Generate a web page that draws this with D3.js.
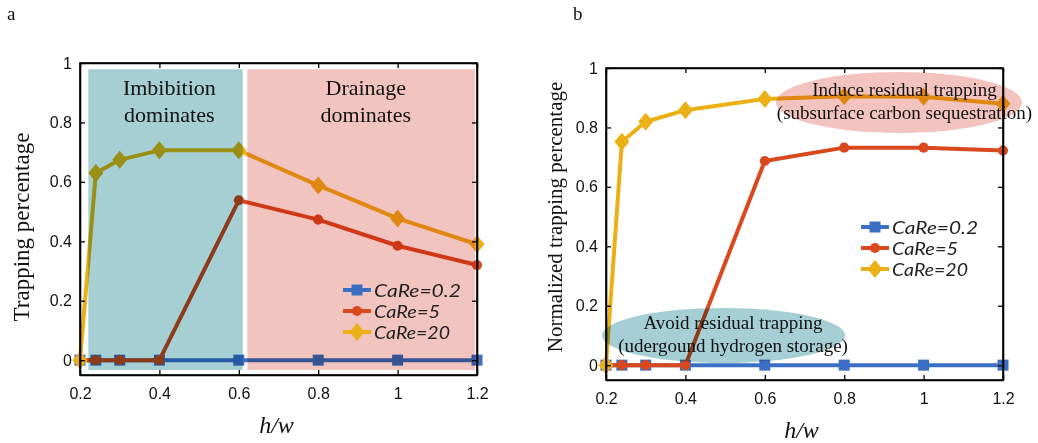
<!DOCTYPE html>
<html><head><meta charset="utf-8">
<script src="https://cdn.jsdelivr.net/npm/d3@7"></script>
<style>
html,body{margin:0;padding:0;background:#fff;}
svg{display:block;}
</style></head>
<body>
<svg id="chart" width="1038" height="443"></svg>
<script>
// ---------- data ----------
const xValues = [0.2, 0.24, 0.3, 0.4, 0.6, 0.8, 1.0, 1.2];
const xTicks = [0.2, 0.4, 0.6, 0.8, 1, 1.2];
const yTicks = [0, 0.2, 0.4, 0.6, 0.8, 1];
const seriesNames = ["CaRe=0.2", "CaRe=5", "CaRe=20"];
const seriesColors = ["#3a6fc4", "#d9491d", "#ecb017"];
const seriesMarkers = ["square", "circle", "diamond"];

// panel a: trapping percentage
const aCaRe02 = [0, 0, 0, 0, 0, 0, 0, 0];
const aCaRe5  = [0, 0, 0, 0, 0.538, 0.473, 0.385, 0.32];
const aCaRe20 = [0, 0.63, 0.674, 0.706, 0.706, 0.588, 0.477, 0.39];

// panel b: normalized trapping percentage
const bCaRe02 = [0, 0, 0, 0, 0, 0, 0, 0];
const bCaRe5  = [0, 0, 0, 0, 0.687, 0.732, 0.732, 0.722];
const bCaRe20 = [0, 0.752, 0.819, 0.858, 0.896, 0.905, 0.903, 0.88];

// annotation regions (data units)
const aRegions = [
  {x0: 0.221, x1: 0.61, y0: -0.033, y1: 0.979, fill: "#a6cfd4", lines: ["Imbibition", "dominates"], tx: 0.425},
  {x0: 0.6215, x1: 1.195, y0: -0.033, y1: 0.979, fill: "#f2c4c0", lines: ["Drainage", "dominates"], tx: 0.92}
];
const bEllipses = [
  {cx: 0.938, cy: 0.884, rx: 0.31, ry: 0.1026, fill: "#f2c3bf", lines: ["Induce residual trapping", "(subsurface carbon sequestration)"], tx: 0.952},
  {cx: 0.496, cy: 0.10, rx: 0.306, ry: 0.0925, fill: "#a5cfd4", lines: ["Avoid residual trapping", "(udergound hydrogen storage)"], tx: 0.52}
];

const svg = d3.select("#chart");
svg.append("rect").attr("width", 1038).attr("height", 443).attr("fill", "#fff");

function markerPath(type) {
  if (type === "square") return d3.symbol(d3.symbolSquare, 121)();
  if (type === "circle") return d3.symbol(d3.symbolCircle, 80)();
  return "M0,-9L7.5,0L0,9L-7.5,0Z";
}

function drawPanel(cfg) {
  const x = d3.scaleLinear().domain([0.2, 1.2]).range([cfg.left, cfg.right]);
  const y = d3.scaleLinear().domain([-0.05, 1]).range([cfg.bottom, cfg.top]);
  const g = svg.append("g");

  // series
  const line = d3.line().x((d, i) => x(xValues[i])).y(d => y(d));
  cfg.series.forEach((vals, k) => {
    g.append("path").attr("d", line(vals)).attr("fill", "none")
      .attr("stroke", seriesColors[k]).attr("stroke-width", 4).attr("stroke-linejoin", "round");
    g.selectAll(null).data(vals).enter().append("path")
      .attr("d", markerPath(seriesMarkers[k]))
      .attr("transform", (d, i) => `translate(${x(xValues[i])},${y(d)})`)
      .attr("fill", seriesColors[k]);
  });

  // overlays (multiply blend)
  const ov = g.append("g");
  (cfg.regions || []).forEach(r => {
    ov.append("rect").attr("x", x(r.x0)).attr("y", y(r.y1))
      .attr("width", x(r.x1) - x(r.x0)).attr("height", y(r.y0) - y(r.y1))
      .attr("fill", r.fill).style("mix-blend-mode", "multiply");
  });
  (cfg.ellipses || []).forEach(e => {
    ov.append("ellipse").attr("cx", x(e.cx)).attr("cy", y(e.cy))
      .attr("rx", x(e.cx + e.rx) - x(e.cx)).attr("ry", y(e.cy) - y(e.cy + e.ry))
      .attr("fill", e.fill).style("mix-blend-mode", "multiply");
  });

  // axes box with inward ticks
  const tickLen = 5;
  const axB = d3.axisBottom(x).tickValues(xTicks).tickSizeInner(-tickLen).tickSizeOuter(0).tickPadding(13).tickFormat(d3.format("~g"));
  const axT = d3.axisTop(x).tickValues(xTicks).tickSizeInner(-tickLen).tickSizeOuter(0).tickFormat("");
  const axL = d3.axisLeft(y).tickValues(yTicks).tickSizeInner(-tickLen).tickSizeOuter(0).tickPadding(8).tickFormat(d3.format("~g"));
  const axR = d3.axisRight(y).tickValues(yTicks).tickSizeInner(-tickLen).tickSizeOuter(0).tickFormat("");
  const axes = [
    g.append("g").attr("transform", `translate(0,${cfg.bottom})`).call(axB),
    g.append("g").attr("transform", `translate(0,${cfg.top})`).call(axT),
    g.append("g").attr("transform", `translate(${cfg.left},0)`).call(axL),
    g.append("g").attr("transform", `translate(${cfg.right},0)`).call(axR)
  ];
  axes.forEach(a => {
    a.select(".domain").attr("stroke", "#000").attr("stroke-width", 1.6);
    a.selectAll(".tick line").attr("stroke", "#000").attr("stroke-width", 1.3);
    a.selectAll(".tick text").attr("font-family", "'Liberation Sans', Arial, sans-serif")
      .attr("font-size", 16).attr("fill", "#111");
  });
  g.append("rect").attr("x", cfg.left).attr("y", cfg.top).attr("width", cfg.right - cfg.left)
    .attr("height", cfg.bottom - cfg.top).attr("fill", "none").attr("stroke", "#000").attr("stroke-width", 1.6);

  // annotation text
  const serif = "'Liberation Serif', 'Times New Roman', serif";
  (cfg.regions || []).forEach(r => {
    r.lines.forEach((t, i) => {
      g.append("text").attr("x", x(r.tx)).attr("y", cfg.top + 25 + i * 27 + 7)
        .attr("text-anchor", "middle").attr("font-family", serif).attr("font-size", 22)
        .attr("fill", "#111").text(t);
    });
  });
  (cfg.ellipses || []).forEach(e => {
    e.lines.forEach((t, i) => {
      g.append("text").attr("x", x(e.tx)).attr("y", y(e.cy) - 12 + i * 23 + 6)
        .attr("text-anchor", "middle").attr("font-family", serif).attr("font-size", 19)
        .attr("fill", "#111").text(t);
    });
  });

  // legend
  const lg = g.append("g").attr("transform", `translate(${cfg.legX},${cfg.legY})`);
  seriesNames.forEach((n, k) => {
    const row = lg.append("g").attr("transform", `translate(0,${k * cfg.legDy})`);
    row.append("line").attr("x1", 0).attr("x2", 28).attr("y1", 0).attr("y2", 0)
      .attr("stroke", seriesColors[k]).attr("stroke-width", 4);
    row.append("path").attr("d", markerPath(seriesMarkers[k])).attr("transform", "translate(14,0)")
      .attr("fill", seriesColors[k]);
    row.append("text").attr("x", 31).attr("y", 6.5).attr("font-family", "Lato, 'Open Sans', sans-serif")
      .attr("font-style", "italic").attr("font-size", 17.5).attr("fill", "#222")
      .attr("textLength", cfg.legW[k]).attr("lengthAdjust", "spacingAndGlyphs").text(n);
  });

  // axis titles
  g.append("text").attr("x", (cfg.left + cfg.right) / 2 + cfg.xtOff).attr("y", cfg.bottom + 58)
    .attr("text-anchor", "middle").attr("font-family", serif).attr("font-style", "italic")
    .attr("font-size", 24).attr("fill", "#111").text("h/w");
  g.append("text").attr("transform", `translate(${cfg.ytX},${cfg.ytY}) rotate(-90)`)
    .attr("text-anchor", "middle").attr("font-family", serif).attr("font-size", cfg.ytSize)
    .attr("fill", "#111").text(cfg.yTitle);

  // panel letter
  svg.append("text").attr("x", cfg.letterX).attr("y", 20).attr("font-family", serif)
    .attr("font-size", 19).attr("fill", "#111").text(cfg.letter);
}

drawPanel({
  left: 80, right: 477, top: 63, bottom: 375,
  series: [aCaRe02, aCaRe5, aCaRe20],
  regions: aRegions,
  legX: 343, legY: 290, legDy: 21, legW: [87, 66, 76],
  xtOff: -2, ytX: 29, ytY: 227, ytSize: 23, yTitle: "Trapping percentage",
  letter: "a", letterX: 7
});
drawPanel({
  left: 606, right: 1003, top: 68, bottom: 380,
  series: [bCaRe02, bCaRe5, bCaRe20],
  ellipses: bEllipses,
  legX: 861, legY: 227, legDy: 21, legW: [86, 66, 76],
  xtOff: -3, ytX: 562, ytY: 217, ytSize: 21, yTitle: "Normalized trapping percentage",
  letter: "b", letterX: 573
});
</script>
</body></html>
